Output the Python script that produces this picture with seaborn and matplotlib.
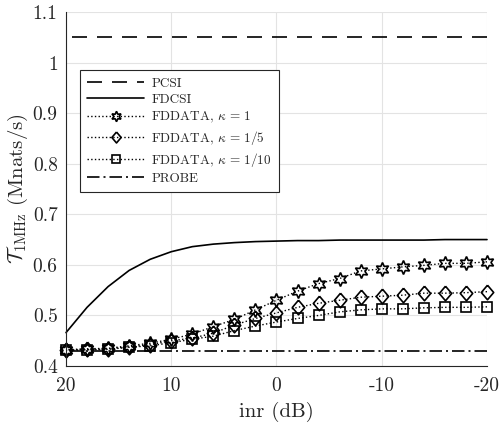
import numpy as np
import pandas as pd
import matplotlib
matplotlib.use("Agg")
import matplotlib.pyplot as plt
import seaborn as sns

# ---- data ----
inr = [20, 18, 16, 14, 12, 10, 8, 6, 4, 2, 0, -2, -4, -6, -8, -10, -12, -14, -16, -18, -20]
pcsi = [1.05] * 21
fdcsi = [0.466, 0.516, 0.557, 0.589, 0.611, 0.626, 0.636, 0.641, 0.644, 0.646, 0.647,
         0.648, 0.648, 0.649, 0.649, 0.649, 0.649, 0.649, 0.650, 0.650, 0.650]
fd_k1 = [0.432, 0.434, 0.435, 0.440, 0.445, 0.453, 0.463, 0.478, 0.492, 0.511, 0.530,
         0.548, 0.563, 0.573, 0.588, 0.592, 0.596, 0.599, 0.603, 0.603, 0.606]
fd_k5 = [0.432, 0.433, 0.434, 0.438, 0.442, 0.450, 0.455, 0.465, 0.481, 0.494, 0.505,
         0.516, 0.524, 0.530, 0.536, 0.538, 0.540, 0.544, 0.544, 0.545, 0.547]
fd_k10 = [0.431, 0.432, 0.433, 0.437, 0.440, 0.446, 0.453, 0.459, 0.470, 0.479, 0.487,
          0.494, 0.500, 0.507, 0.511, 0.513, 0.513, 0.515, 0.516, 0.516, 0.517]
probe = [0.429] * 21

labels = ["PCSI", "FDCSI", r"FDDATA, $\kappa$ = 1", r"FDDATA, $\kappa$ = 1/5",
          r"FDDATA, $\kappa$ = 1/10", "PROBE"]
xticks = [20, 10, 0, -10, -20]
xticklabels = ["20", "10", "0", "-10", "-20"]
yticks = [0.4, 0.5, 0.6, 0.7, 0.8, 0.9, 1.0, 1.1]
yticklabels = ["0.4", "0.5", "0.6", "0.7", "0.8", "0.9", "1", "1.1"]

sns.set_style("white")
plt.rcParams["font.family"] = ["cmr10", "DejaVu Serif"]
plt.rcParams["mathtext.fontset"] = "cm"
plt.rcParams["axes.unicode_minus"] = False
plt.rcParams["axes.formatter.use_mathtext"] = True

fig = plt.figure(figsize=(5.02, 4.30), dpi=100)
ax = fig.add_axes([66 / 502, 64 / 430, 421 / 502, 354 / 430])

diamond = [(0, 1), (0.85, 0), (0, -1), (-0.85, 0), (0, 1)]

series = [
    (pcsi, dict(color="black", lw=1.2, dashes=(9, 6), marker=None)),
    (fdcsi, dict(color="black", lw=1.2, linestyle="-", marker=None)),
    (fd_k1, dict(color="black", lw=1.0, linestyle=":", marker=(6, 1, 0), markersize=10,
                 markerfacecolor="none", markeredgecolor="black", markeredgewidth=1.2)),
    (fd_k5, dict(color="black", lw=1.0, linestyle=":", marker=diamond, markersize=10.5,
                 markerfacecolor="none", markeredgecolor="black", markeredgewidth=1.2)),
    (fd_k10, dict(color="black", lw=1.0, linestyle=":", marker="s", markersize=7.8,
                  markerfacecolor="none", markeredgecolor="black", markeredgewidth=1.2)),
    (probe, dict(color="black", lw=1.2, dashes=(7.5, 2.4, 1.2, 2.4), marker=None)),
]

for (vals, kw), lab in zip(series, labels):
    df = pd.DataFrame({"inr": inr, "val": vals})
    kw = dict(kw)
    if kw.get("marker") is None:
        kw.pop("marker")
    sns.lineplot(data=df, x="inr", y="val", ax=ax, label=lab, clip_on=False, **kw)

ax.set_xlim(20, -20)
ax.set_ylim(0.4, 1.1)
ax.set_xticks(xticks)
ax.set_xticklabels(xticklabels)
ax.set_yticks(yticks)
ax.set_yticklabels(yticklabels)
ax.grid(True, color="#e3e3e3", lw=0.8)
ax.set_axisbelow(True)
for s in ["top", "right"]:
    ax.spines[s].set_visible(False)
for s in ["left", "bottom"]:
    ax.spines[s].set_color("#262626")
    ax.spines[s].set_linewidth(0.8)
ax.tick_params(axis="both", direction="in", length=4, width=0.8, color="#262626",
               labelsize=14, labelcolor="#262626")
ax.tick_params(axis="y", pad=6)
ax.tick_params(axis="x", pad=8)
ax.set_xlabel("inr (dB)", fontsize=15, color="#262626", labelpad=5)
ax.set_ylabel(r"$\mathcal{T}_{\rm 1MHz}$ (Mnats/s)", fontsize=15, color="#262626", labelpad=2)

leg = ax.legend(loc="upper left", bbox_to_anchor=(0.033, 0.836), borderaxespad=0,
                fontsize=9.5, handlelength=4.3, numpoints=1, labelspacing=0.3,
                markerscale=0.75,
                frameon=True, fancybox=False, edgecolor="#262626", framealpha=1,
                borderpad=0.55, handletextpad=0.55)
leg.get_frame().set_linewidth(0.8)

fig.savefig("out.png", dpi=100)
